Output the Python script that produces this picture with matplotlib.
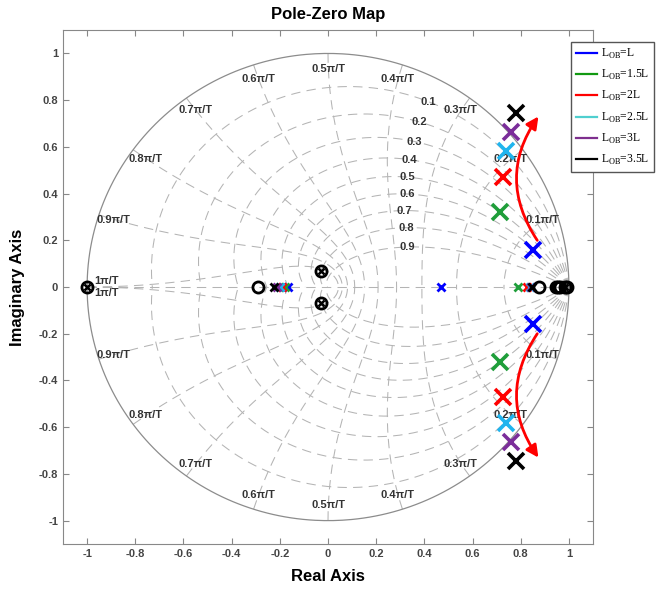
import numpy as np
import matplotlib
matplotlib.use('Agg')
import matplotlib.pyplot as plt
from matplotlib.lines import Line2D
from matplotlib.patches import FancyArrowPatch

plt.rcParams['font.family'] = ['Liberation Sans', 'DejaVu Sans']
plt.rcParams['mathtext.fontset'] = 'custom'
plt.rcParams['mathtext.rm'] = 'Liberation Serif'

# === ДАННЫЕ ===
series = ['L', '1.5L', '2L', '2.5L', '3L', '3.5L']
marker_colors = ['#0000ff', '#1f9e3a', '#ff0000', '#20b4ee', '#7b2d9a', '#000000']
line_colors = ['#0000ff', '#119911', '#ff0000', '#4fcfcf', '#7e2f8e', '#000000']

# комплексно-сопряжённые полюса (верхняя половина)
pole_re = [0.850, 0.713, 0.725, 0.738, 0.758, 0.779]
pole_im = [0.159, 0.320, 0.470, 0.582, 0.665, 0.745]
# вещественные полюса
pole_right = [0.47, 0.79, 0.825, 0.84, 0.842, 0.845]
pole_left = [-0.165, -0.178, -0.19, -0.20, -0.212, -0.225]

# нули (общие)
zero_re = [-0.29, 0.875, 0.945, 0.955, 0.965, 0.99]
# совпадающие нуль+полюс
zp_re = [-1.0, -0.03, -0.03, 0.985]
zp_im = [0.0, 0.07, -0.07, 0.0]

zeta_vals = [0.1, 0.2, 0.3, 0.4, 0.5, 0.6, 0.7, 0.8, 0.9]
zeta_label_x = [0.42, 0.38, 0.36, 0.34, 0.33, 0.33, 0.32, 0.33, 0.33]
wn_vals = [0.1, 0.2, 0.3, 0.4, 0.5, 0.6, 0.7, 0.8, 0.9, 1.0]

tick_vals = [-1, -0.8, -0.6, -0.4, -0.2, 0, 0.2, 0.4, 0.6, 0.8, 1]

# === РИСУНОК ===
fig = plt.figure(figsize=(6.6, 5.9), dpi=100)
ax = fig.add_axes([0.0955, 0.078, 0.803, 0.871])

grid_kw = dict(color='#b4b4b4', lw=0.75, ls=(0, (9, 6)), zorder=1)
lab_kw = dict(fontsize=8, fontweight='bold', color='#333333', ha='center', va='center', zorder=2)

# линии постоянного затухания
wd = np.linspace(0, np.pi, 400)
for z, xt in zip(zeta_vals, zeta_label_x):
    r = np.exp(-z / np.sqrt(1 - z ** 2) * wd)
    x, y = r * np.cos(wd), r * np.sin(wd)
    ax.plot(x, y, **grid_kw)
    ax.plot(x, -y, **grid_kw)
    i = np.argmax(x <= xt)
    ax.text(x[i], y[i], f'{z:g}', **lab_kw)

# линии постоянной собственной частоты
zz = np.linspace(0, 1, 300)
for w in wn_vals:
    p = np.exp(w * np.pi * (-zz + 1j * np.sqrt(1 - zz ** 2)))
    ax.plot(p.real, p.imag, **grid_kw)
    ax.plot(p.real, -p.imag, **grid_kw)
    a = w * np.pi
    lx, ly = 0.935 * np.cos(a), 0.935 * np.sin(a)
    if w == 1.0:
        lx, ly = -0.92, 0.025
    ax.text(lx, ly, f'{w:g}π/T', **lab_kw)
    ax.text(lx, -ly, f'{w:g}π/T', **lab_kw)

ax.plot([-1, 1], [0, 0], **grid_kw)
th = np.linspace(0, 2 * np.pi, 500)
ax.plot(np.cos(th), np.sin(th), color='#8c8c8c', lw=0.9, zorder=1)

# полюса и нули
for i, c in enumerate(marker_colors):
    ax.plot([pole_re[i], pole_re[i]], [pole_im[i], -pole_im[i]], 'x', color=c,
            ms=11, mew=2.6, zorder=4)
    ax.plot([pole_right[i], pole_left[i]], [0, 0], 'x', color=c, ms=6, mew=2, zorder=4)

ax.plot(zero_re, np.zeros(len(zero_re)), 'o', mfc='none', mec='black', ms=8, mew=2, zorder=5)
ax.plot(zp_re, zp_im, 'o', mfc='none', mec='black', ms=8, mew=2, zorder=5)
ax.plot(zp_re, zp_im, 'x', color='black', ms=5, mew=1.8, zorder=5)

# стрелки
for start, end, rad in [((0.875, 0.19), (0.88, 0.74), -0.35),
                        ((0.875, -0.19), (0.88, -0.74), 0.35)]:
    ax.add_patch(FancyArrowPatch(start, end, connectionstyle=f'arc3,rad={rad}',
                                 arrowstyle='-|>', mutation_scale=18, color='red',
                                 lw=2, zorder=6))

# оси
ax.set_xlim(-1.1, 1.1)
ax.set_ylim(-1.1, 1.1)
ax.set_xticks(tick_vals)
ax.set_yticks(tick_vals)
ax.set_xticklabels([f'{v:g}' for v in tick_vals], fontweight='bold')
ax.set_yticklabels([f'{v:g}' for v in tick_vals], fontweight='bold')
ax.tick_params(direction='in', top=True, right=True, length=4, color='#888888',
               labelcolor='#444444', labelsize=8)
for s in ax.spines.values():
    s.set_color('#888888')

ax.set_title('Pole-Zero Map', fontsize=12, fontweight='bold', pad=8)
ax.set_xlabel('Real Axis', fontsize=12, fontweight='bold', labelpad=7)
ax.set_ylabel('Imaginary Axis', fontsize=12, fontweight='bold', labelpad=10)

handles = [Line2D([], [], color=c, lw=1.6) for c in line_colors]
labels = [r'L$_{\mathrm{OB}}$=' + s for s in series]
ax.legend(handles, labels, loc='upper left', bbox_to_anchor=(571 / 660, 1 - 42 / 590),
          bbox_transform=fig.transFigure, fancybox=False, framealpha=1,
          edgecolor='#555555', borderaxespad=0, handlelength=1.8, labelspacing=0.62,
          borderpad=0.4, handletextpad=0.4,
          prop={'family': 'Liberation Serif', 'size': 8.4})

fig.savefig('out.png', dpi=100)
